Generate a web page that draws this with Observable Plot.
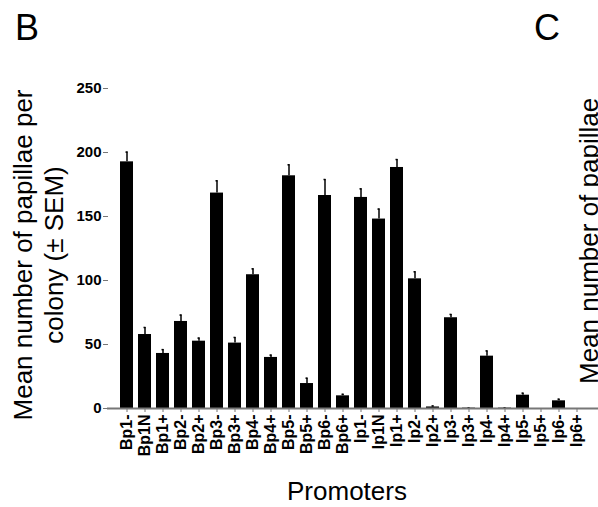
<!DOCTYPE html>
<html>
<head>
<meta charset="utf-8">
<script src="https://cdn.jsdelivr.net/npm/d3@7"></script>
<script src="https://cdn.jsdelivr.net/npm/@observablehq/plot@0.6"></script>
<style>
  html, body { margin: 0; padding: 0; background: #fff; }
  #chart svg { display: block; }
</style>
</head>
<body>
<div id="chart"></div>
<script>
const promoters = ["Bp1-","Bp1N","Bp1+","Bp2-","Bp2+","Bp3-","Bp3+","Bp4-","Bp4+","Bp5-","Bp5+","Bp6-","Bp6+",
                   "Ip1-","Ip1N","Ip1+","Ip2-","Ip2+","Ip3-","Ip3+","Ip4-","Ip4+","Ip5-","Ip5+","Ip6-","Ip6+"];
const meanPapillae = [192.7, 57.8, 43.0, 68.0, 52.6, 168.3, 51.1, 104.5, 39.9, 181.8, 19.5, 166.4, 9.9,
                      164.9, 148.0, 188.3, 101.3, 1.2, 70.9, 0.3, 40.9, 0.3, 10.4, 0, 6.0, 0];
const sem = [7.6, 5.5, 3.0, 5.0, 2.4, 9.6, 4.4, 4.6, 1.8, 8.6, 4.2, 12.5, 1.2,
             6.7, 7.8, 6.2, 5.5, 0.8, 2.6, 0.2, 4.1, 0.2, 1.6, 0, 1.3, 0];
const yTicks = [0, 50, 100, 150, 200, 250];

const data = promoters.map((p, i) => ({promoter: p, mean: meanPapillae[i], sem: sem[i], top: meanPapillae[i] + sem[i]}));
const errData = data.filter(d => d.sem > 0);

const W = 598, H = 507;
const chart = Plot.plot({
  width: W,
  height: H,
  marginLeft: 108,
  marginRight: 4,
  marginTop: 88,
  marginBottom: 99,
  style: {fontFamily: "Liberation Sans, Arial, sans-serif", background: "white"},
  x: {domain: promoters, paddingInner: 0.29, paddingOuter: 0.15, label: null},
  y: {domain: [0, 250], label: null},
  marks: [
    Plot.barY(data, {x: "promoter", y: "mean", fill: "black"}),
    Plot.ruleX(errData, {x: "promoter", y1: "mean", y2: "top", stroke: "black", strokeWidth: 1.5}),
    Plot.tickY(errData, {x: "promoter", y: "top", stroke: "black", strokeWidth: 1.5, insetLeft: 5.5, insetRight: 5.5}),
    Plot.ruleY([0], {stroke: "#777", strokeWidth: 2, insetRight: -4, insetLeft: -1}),
    Plot.ruleX([0], {frameAnchor: "left", y1: 0, y2: 250, stroke: "#777", strokeWidth: 2}),
    Plot.axisY({ticks: yTicks, tickSize: 5, tickPadding: 2, stroke: "#777", fill: "black", label: null}),
    Plot.axisX({tickSize: 4, tickPadding: 2, tickRotate: -90, stroke: "#777", fill: "black", label: null})
  ]
});
document.getElementById("chart").appendChild(chart);

const svg = d3.select(chart);
const promoterSet = new Set(promoters);
svg.selectAll("text").each(function() {
  const t = this.textContent.trim();
  const sz = promoterSet.has(t) ? "16px" : "15px";
  this.style.setProperty("font-size", sz, "important");
  this.style.setProperty("font-weight", "bold", "important");
  this.style.setProperty("font-family", "Liberation Sans, Arial, sans-serif", "important");
});

const ff = "Liberation Sans, Arial, sans-serif";
function label(t, size) {
  return svg.append("text").style("font-family", ff).style("font-weight", "normal")
    .style("font-size", size + "px").attr("fill", "black").text(t);
}
label("B", 36).attr("x", 27).attr("y", 40);
label("C", 36).attr("x", 547).attr("y", 40);
label("Mean number of papillae per", 26).attr("transform", "translate(32,255) rotate(-90)").attr("text-anchor", "middle");
label("colony (± SEM)", 26).attr("transform", "translate(63,255) rotate(-90)").attr("text-anchor", "middle");
label("Mean number of papillae", 26).attr("transform", "translate(598,384) rotate(-90)").attr("text-anchor", "start");
label("Promoters", 26).attr("x", 347).attr("y", 500).attr("text-anchor", "middle");
</script>
</body>
</html>
